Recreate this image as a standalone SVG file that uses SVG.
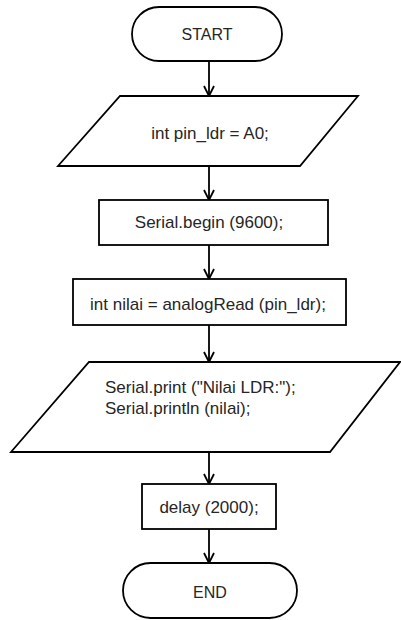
<svg xmlns="http://www.w3.org/2000/svg" width="401" height="620" viewBox="0 0 401 620">
  <style>
    .shape { fill: #ffffff; stroke: #000000; stroke-width: 1.8; }
    .label { font-family: "Liberation Sans", Arial, sans-serif; font-size: 17px; fill: #262626; }
    .caps { font-size: 16px; }
    .mid { text-anchor: middle; dominant-baseline: central; }
    .edge { stroke: #000000; stroke-width: 1.8; fill: none; }
  </style>
  <defs>
    <marker id="vhead" viewBox="0 0 12 12" refX="11" refY="6" markerWidth="12" markerHeight="12" markerUnits="userSpaceOnUse" orient="auto">
      <path d="M1,1 L11,6 L1,11" fill="none" stroke="#000000" stroke-width="1.8"/>
    </marker>
  </defs>
  <rect width="401" height="620" fill="#ffffff"/>

  <g id="connectors">
    <line class="edge" x1="209" y1="61" x2="209" y2="96" marker-end="url(#vhead)"/>
    <line class="edge" x1="209" y1="166" x2="209" y2="200" marker-end="url(#vhead)"/>
    <line class="edge" x1="209" y1="245" x2="209" y2="279" marker-end="url(#vhead)"/>
    <line class="edge" x1="209" y1="325" x2="209" y2="362" marker-end="url(#vhead)"/>
    <line class="edge" x1="209" y1="452" x2="209" y2="484" marker-end="url(#vhead)"/>
    <line class="edge" x1="209" y1="529" x2="209" y2="563" marker-end="url(#vhead)"/>
  </g>

  <g id="start">
    <rect class="shape" x="132" y="7" width="150" height="54" rx="27" ry="27"/>
    <text class="label caps mid" x="207" y="34">START</text>
  </g>

  <g id="init-pin">
    <polygon class="shape" points="120,96 358,96 300,166 58,166"/>
    <text class="label mid" x="210" y="133">int pin_ldr = A0;</text>
  </g>

  <g id="serial-begin">
    <rect class="shape" x="99" y="200" width="229" height="45"/>
    <text class="label mid" x="209" y="222">Serial.begin (9600);</text>
  </g>

  <g id="read-ldr">
    <rect class="shape" x="73" y="279" width="273" height="46"/>
    <text class="label mid" x="208" y="304">int nilai = analogRead (pin_ldr);</text>
  </g>

  <g id="print-value">
    <polygon class="shape" points="89,362 400,362 330,452 11,452"/>
    <text class="label" x="105" y="393">Serial.print ("Nilai LDR:");</text>
    <text class="label" x="105" y="414">Serial.println (nilai);</text>
  </g>

  <g id="delay">
    <rect class="shape" x="142" y="484" width="134" height="45"/>
    <text class="label mid" x="209" y="507">delay (2000);</text>
  </g>

  <g id="end">
    <rect class="shape" x="123" y="563" width="174" height="55" rx="27.5" ry="27.5"/>
    <text class="label caps mid" x="210" y="592">END</text>
  </g>
</svg>
